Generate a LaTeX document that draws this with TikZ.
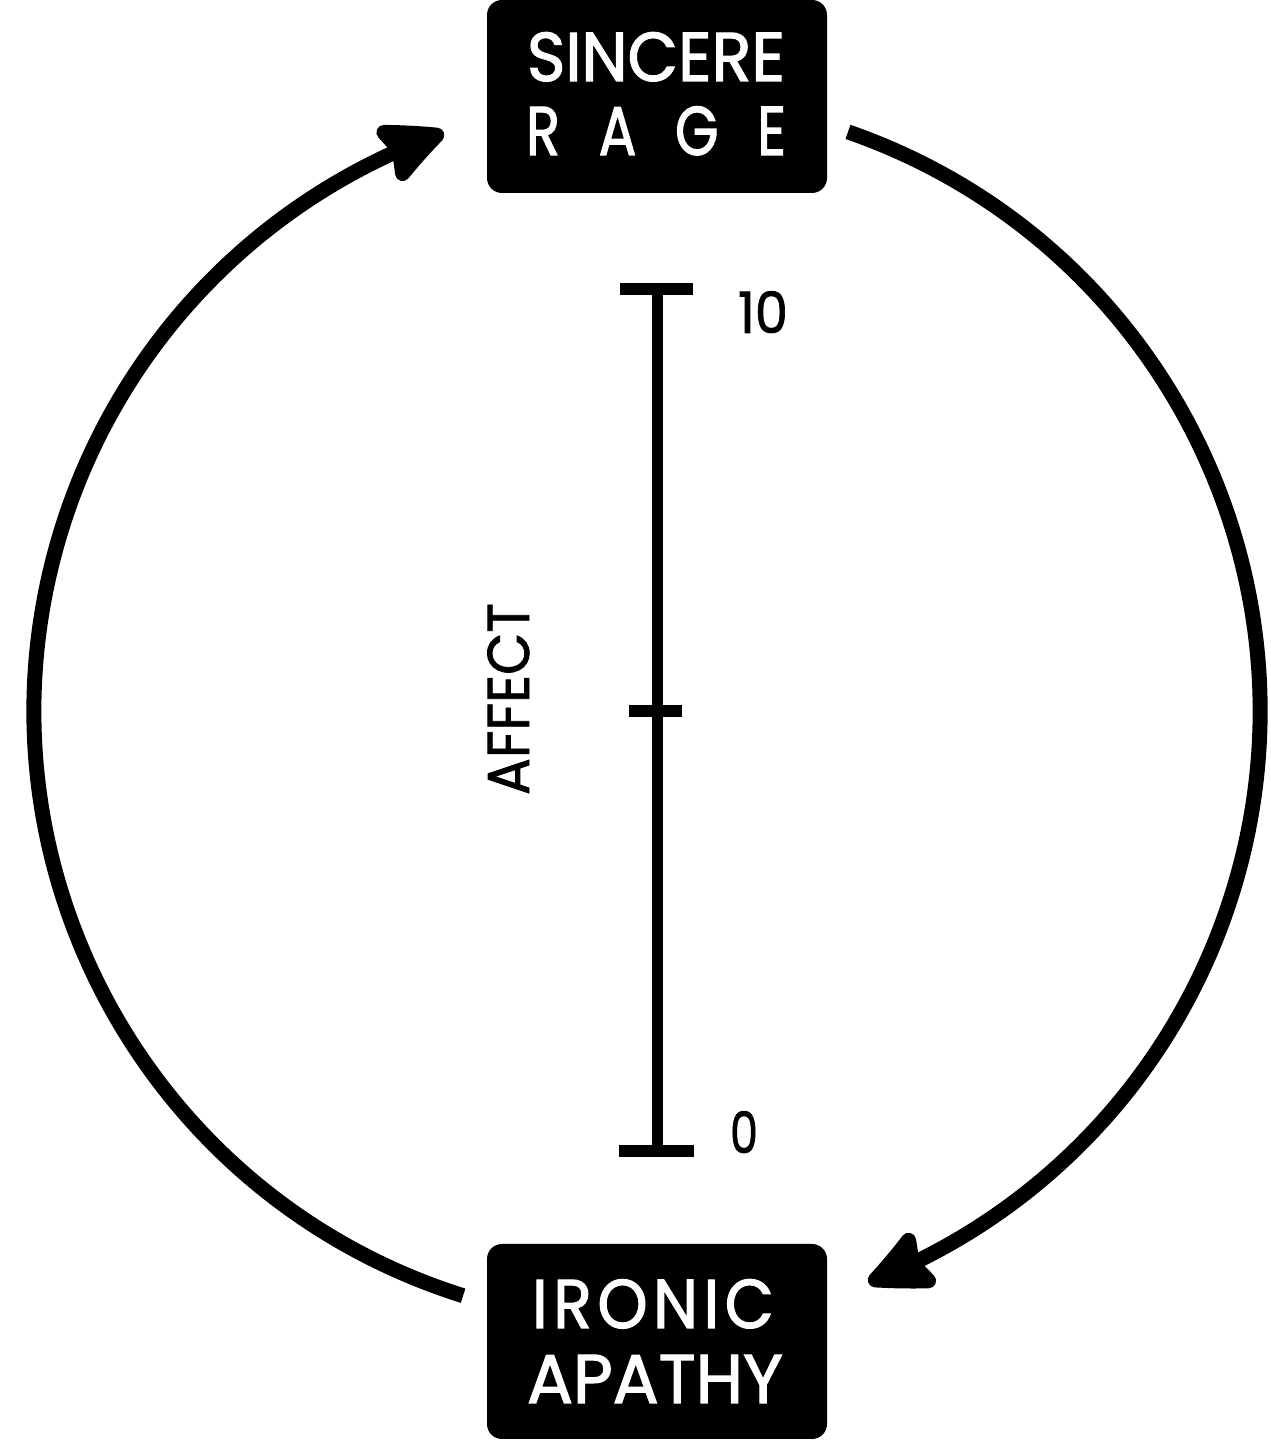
\documentclass[tikz,border=0pt]{standalone}
\usepackage{fontspec}
\setmainfont{Poppins}
\newfontfamily\boxfont{Poppins}[FakeBold=1.8]
\newfontfamily\labfont{Poppins}[FakeBold=1.3]
\usetikzlibrary{arrows.meta,bending}
\begin{document}
\begin{tikzpicture}[x=1pt,y=1pt]
\tikzset{
  box/.style={fill=black, draw=none, rounded corners=15pt, minimum width=340pt, inner sep=0pt},
  boxtext/.style={text=white, anchor=base, inner sep=0pt, font=\boxfont\fontsize{69}{69}\selectfont},
  ring/.style={line width=15pt},
  headtip/.style={-{Stealth[length=76pt,width=70pt,inset=10pt,round,bend]}},
  scaleline/.style={line width=11pt},
  tickmark/.style={line width=12pt},
  numlabel/.style={anchor=base, inner sep=0pt, font=\labfont\fontsize{57}{57}\selectfont},
}
\useasboundingbox (0,0) rectangle (1270,1455);
% boxes
\node[box, minimum height=193pt] (top) at (657,1358.5) {};
\node[box, minimum height=195pt] (bottom) at (657,113.5) {};
\node[boxtext] (sincere) at (656,1374) {\resizebox{258pt}{\height}{SINCERE}};
\node[boxtext] (rage) at (656,1300) {\resizebox{260pt}{\height}{\makebox[320pt][s]{R\hfill A\hfill G\hfill E}}};
\node[boxtext] (ironic) at (653,127) {\resizebox{242pt}{\height}{I\hspace{6pt}R\hspace{6pt}O\hspace{6pt}N\hspace{6pt}I\hspace{6pt}C}};
\node[boxtext] (apathy) at (655,52) {\resizebox{256pt}{\height}{APATHY}};
% scale
\coordinate (s10) at (657,1166);
\coordinate (s5) at (657,744);
\coordinate (s0) at (657,304);
\draw[scaleline] (s10) -- (s0);
\draw[tickmark] (620,1166) -- (693,1166);
\draw[tickmark] (629,744) -- (682,744);
\draw[tickmark] (619,304) -- (694,304);
\node[numlabel] (ten) at (763,1122) {\resizebox{50pt}{\height}{10}};
\node[numlabel] (zero) at (744,302) {\resizebox{28pt}{\height}{0}};
\node[anchor=base, inner sep=0pt, rotate=90, font=\labfont\fontsize{59}{59}\selectfont] (affect) at (529,756) {\resizebox{192pt}{\height}{AFFECT}};
% cycle arcs
\coordinate (c) at (647,744);
\draw[ring,headtip] ([shift={(70.86:613)}]c) coordinate (rstart) arc[start angle=70.86, end angle=-68.84, radius=613];
\draw[ring,headtip] ([shift={(252.54:613)}]c) coordinate (lstart) arc[start angle=252.54, end angle=109.35, radius=613];
\end{tikzpicture}
\end{document}
